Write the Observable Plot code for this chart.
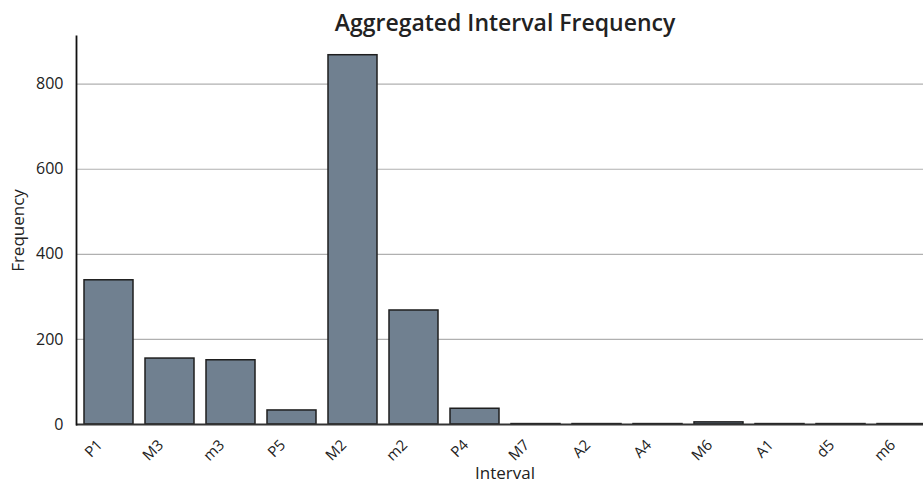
<!DOCTYPE html>
<html>
<head>
<meta charset="utf-8">
<script src="https://cdn.jsdelivr.net/npm/d3@7"></script>
<script src="https://cdn.jsdelivr.net/npm/@observablehq/plot@0.6"></script>
<style>
  body { margin: 0; background: #fff; }
  #chart svg { font-family: "Open Sans", "DejaVu Sans", sans-serif; }
</style>
</head>
<body>
<div id="chart"></div>
<script>
const intervals = ["P1", "M3", "m3", "P5", "M2", "m2", "P4", "M7", "A2", "A4", "M6", "A1", "d5", "m6"];
const frequencies = [339, 155, 151, 33, 868, 268, 37, 1, 1, 1, 5, 1, 1, 1];
const yTicks = [0, 200, 400, 600, 800];
const titleText = "Aggregated Interval Frequency";
const xLabel = "Interval";
const yLabel = "Frequency";

const data = intervals.map((k, i) => ({interval: k, frequency: frequencies[i]}));

const W = 923, H = 482;
const chart = Plot.plot({
  width: W,
  height: H,
  marginLeft: 76,
  marginRight: 0,
  marginTop: 36,
  marginBottom: 58,
  style: {fontFamily: "'Open Sans', 'DejaVu Sans', sans-serif", fontSize: "15px", color: "#222"},
  x: {domain: intervals, range: [76, 934], paddingInner: 0.2, paddingOuter: 0.1, label: null},
  y: {domain: [0, 912], label: null},
  marks: [
    Plot.gridY(yTicks, {stroke: "#b0b0b0", strokeOpacity: 1, strokeWidth: 1.2}),
    Plot.axisY(yTicks, {tickSize: 0, tickPadding: 13, fontSize: 16, fill: "#222", label: null}),
    Plot.axisX({tickSize: 0, tickPadding: 18, tickRotate: -45, fontSize: 15, fill: "#222", label: null, dx: -9}),
    Plot.barY(data, {x: "interval", y: "frequency", fill: "#708090", stroke: "#1e1e1e", strokeWidth: 1.5}),
    Plot.ruleY([0], {stroke: "#333", strokeWidth: 1.8}),
    Plot.frame({anchor: "left", stroke: "#111", strokeWidth: 1.8}),
    Plot.text([titleText], {frameAnchor: "top", lineAnchor: "middle", dy: -13, dx: 5, fontSize: 23, fontWeight: 600, fill: "#222"}),
    Plot.text([xLabel], {frameAnchor: "bottom", lineAnchor: "bottom", dy: 54, dx: 5, fontSize: 17, fill: "#222"}),
    Plot.text([yLabel], {frameAnchor: "left", lineAnchor: "middle", textAnchor: "middle", rotate: -90, dx: -58, fontSize: 17, fill: "#222"})
  ]
});
document.getElementById("chart").appendChild(chart);
</script>
</body>
</html>
